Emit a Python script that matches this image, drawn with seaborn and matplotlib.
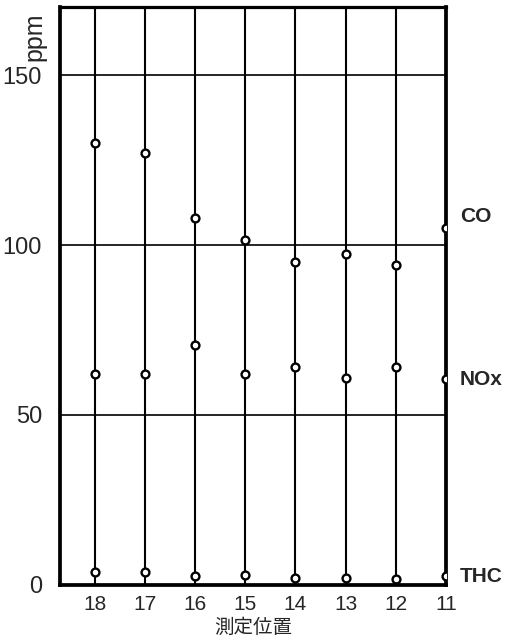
import matplotlib
matplotlib.use("Agg")
import matplotlib.pyplot as plt
import seaborn as sns
import pandas as pd

# measurement positions (left to right) and concentrations in ppm
positions = ["18", "17", "16", "15", "14", "13", "12", "11"]
co = [130, 127, 108, 101.5, 95, 97.5, 94, 105]
nox = [62, 62, 70.5, 62, 64, 61, 64, 60.5]
thc = [3.8, 3.8, 2.6, 2.9, 2.0, 2.0, 1.8, 2.6]
gases = ["CO", "NOx", "THC"]
y_ticks = [0, 50, 100, 150]

sns.set_theme(style="white")
plt.rcParams["font.family"] = ["Liberation Sans", "Noto Sans CJK JP", "DejaVu Sans"]

df = pd.DataFrame({
    "pos": positions * 3,
    "ppm": co + nox + thc,
    "gas": [g for g in gases for _ in positions],
})
df["x"] = df["pos"].map({p: i for i, p in enumerate(positions)})

fig = plt.figure(figsize=(5.13, 6.4), dpi=100)
ax = fig.add_axes([0.117, 0.086, 0.752, 0.903])

ymax = 170
xs = list(range(len(positions)))

# vertical guide lines through every measurement position
ax.vlines(xs, 0, ymax, colors="black", linewidth=1.5, zorder=1)
# horizontal reference lines
for v in y_ticks[1:]:
    ax.axhline(v, color="black", linewidth=1.2, zorder=1)

sns.scatterplot(data=df, x="x", y="ppm", ax=ax, marker="o", s=32,
                facecolor="white", edgecolor="black", linewidth=1.7,
                legend=False, zorder=3)

ax.set_xlim(-0.7, len(positions) - 1)
ax.set_ylim(0, ymax)
ax.set_xticks(xs)
ax.set_xticklabels(positions, fontsize=15)
ax.set_yticks(y_ticks)
ax.set_yticklabels([str(v) for v in y_ticks], fontsize=17)
ax.tick_params(axis="y", length=0, pad=13)
ax.tick_params(axis="x", length=0, pad=7)
ax.set_xlabel("測定位置", fontsize=14, family=["Noto Sans CJK JP", "DejaVu Sans"], labelpad=2)
ax.set_ylabel("")

for side in ["left", "bottom", "right"]:
    ax.spines[side].set_linewidth(2.7)
ax.spines["top"].set_linewidth(2.3)
for sp in ax.spines.values():
    sp.set_color("black")

# unit label above the value axis
fig.text(0.068, 0.943, "ppm", rotation=90, fontsize=18, ha="center", va="center")

# gas names next to the last position
label_y = {"CO": co[-1] + 3.5, "NOx": nox[-1], "THC": thc[-1]}
for g in gases:
    ax.text(len(positions) - 1 + 0.28, label_y[g], g, fontsize=15,
            fontweight="bold", ha="left", va="center", clip_on=False)

fig.savefig("out.png", dpi=100)
